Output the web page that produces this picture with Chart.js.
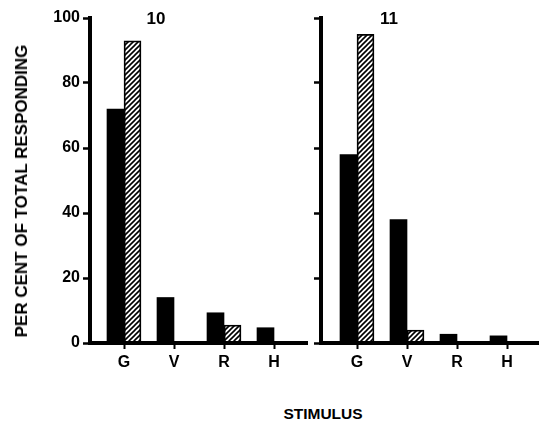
<!DOCTYPE html>
<html>
<head>
<meta charset="utf-8">
<script src="https://cdn.jsdelivr.net/npm/chart.js@4/dist/chart.umd.min.js"></script>
<style>
  html, body { margin: 0; padding: 0; background: #fff; }
  #wrap { position: relative; width: 546px; height: 425px; overflow: hidden;
          font-family: "Liberation Sans", Arial, sans-serif; font-weight: bold; color: #000; }
  canvas { position: absolute; top: 0; }
  .lbl { position: absolute; white-space: nowrap; transform: translate(-50%, -50%); }
</style>
</head>
<body>
<div id="wrap">
  <canvas id="g10" width="312" height="380" style="left:0;width:312px;height:380px"></canvas>
  <canvas id="g11" width="234" height="380" style="left:312px;width:234px;height:380px"></canvas>
  <div class="lbl" style="left:22px;top:191px;font-size:17px;transform:translate(-50%,-50%) rotate(-90deg)">PER CENT OF TOTAL RESPONDING</div>
  <div class="lbl" style="left:156px;top:19px;font-size:17px">10</div>
  <div class="lbl" style="left:389px;top:19px;font-size:17px">11</div>
  <div class="lbl" style="left:323px;top:414px;font-size:15.5px">STIMULUS</div>
</div>
<script>
// categorias y valores
var categories = ["G", "V", "R", "H"];
var solid10 = [72, 14, 9.3, 4.7];
var hatched10 = [93, null, 5.5, null];
var solid11 = [58, 38, 2.7, 2.2];
var hatched11 = [95, 4, null, null];
var yTicks = [0, 20, 40, 60, 80, 100];

var FONT = "'Liberation Sans', Arial, sans-serif";

// patron rayado para las barras blancas
function hatch() {
  var c = document.createElement("canvas");
  c.width = 5; c.height = 5;
  var g = c.getContext("2d");
  g.fillStyle = "#fff";
  g.fillRect(0, 0, 5, 5);
  g.strokeStyle = "#000";
  g.lineWidth = 1.6;
  g.beginPath(); g.moveTo(-1, 6); g.lineTo(6, -1); g.stroke();
  g.beginPath(); g.moveTo(-1, 1); g.lineTo(1, -1); g.stroke();
  g.beginPath(); g.moveTo(4, 6); g.lineTo(6, 4); g.stroke();
  return g.createPattern(c, "repeat");
}

function points(arr) {
  return arr.map(function (v, i) { return { x: i, y: v }; });
}

function makeChart(id, solid, hatched, opts) {
  var ctx = document.getElementById(id).getContext("2d");
  return new Chart(ctx, {
    type: "bar",
    data: {
      datasets: [
        { data: points(solid), backgroundColor: "#000", borderWidth: 0, barThickness: 17 },
        { data: points(hatched), backgroundColor: hatch(), borderColor: "#000",
          borderWidth: 1.8, borderSkipped: false, barThickness: 17 }
      ]
    },
    options: {
      responsive: false,
      animation: false,
      events: [],
      layout: { padding: { top: 18, right: opts.padRight, left: 0, bottom: 0 } },
      plugins: { legend: { display: false }, tooltip: { enabled: false } },
      scales: {
        x: {
          type: "linear",
          min: opts.xMin,
          max: opts.xMax,
          bounds: "data",
          offset: false,
          z: 1,
          border: { display: true, color: "#000", width: 4 },
          grid: { display: true, offset: false, drawOnChartArea: false, drawTicks: true,
                  tickLength: 6, tickWidth: 2, tickColor: "#000", color: "#000" },
          ticks: {
            padding: 4,
            color: "#000",
            font: { family: FONT, size: 16, weight: "bold" },
            callback: function (v) { return categories[v]; }
          },
          afterBuildTicks: function (s) {
            s.ticks = categories.map(function (c, i) { return { value: i }; });
          },
          afterFit: function (s) { s.height = 37; }
        },
        y: {
          min: 0,
          max: 100,
          z: 1,
          border: { display: true, color: "#000", width: 4 },
          grid: { display: true, drawOnChartArea: false, drawTicks: true,
                  tickLength: 7, tickWidth: 2.5, tickColor: "#000", color: "#000" },
          ticks: {
            display: opts.showY,
            padding: 3,
            color: "#000",
            font: { family: FONT, size: 16, weight: "bold" }
          },
          afterBuildTicks: function (s) {
            s.ticks = yTicks.map(function (v) { return { value: v }; });
          },
          afterFit: function (s) { s.width = opts.yWidth; }
        }
      }
    }
  });
}

makeChart("g10", solid10, hatched10, { yWidth: 90, padRight: 5, xMin: -0.68, xMax: 3.66, showY: true });
makeChart("g11", solid11, hatched11, { yWidth: 9, padRight: 8, xMin: -0.72, xMax: 3.62, showY: false });
</script>
</body>
</html>
